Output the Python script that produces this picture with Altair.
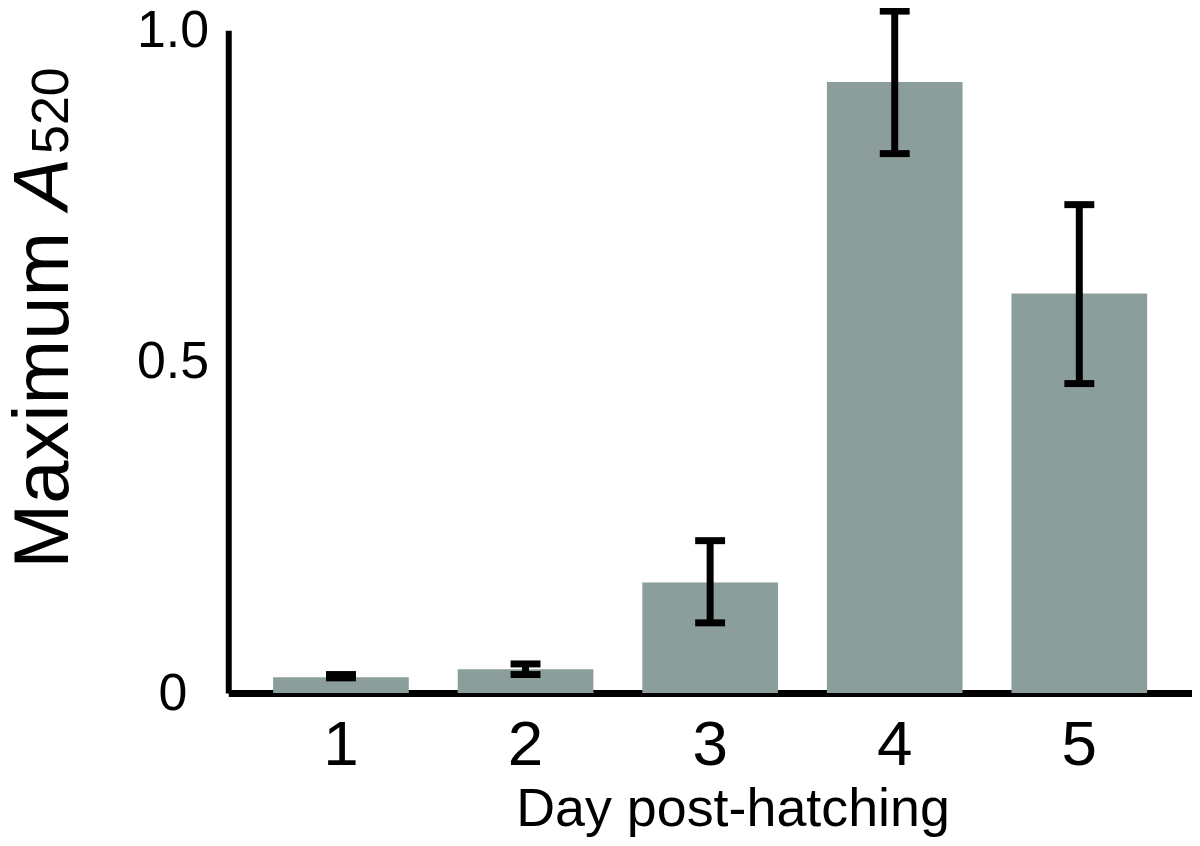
import altair as alt
import pandas as pd

days = ["1", "2", "3", "4", "5"]
means = [0.024, 0.036, 0.167, 0.922, 0.603]
err_low = [0.023, 0.028, 0.106, 0.814, 0.467]
err_high = [0.028, 0.044, 0.230, 1.029, 0.737]

df = pd.DataFrame({"day": days, "mean": means, "lo": err_low, "hi": err_high})

FONT = "Liberation Sans"

x_enc = alt.X(
    "day:N",
    sort=days,
    scale=alt.Scale(paddingInner=0.265, paddingOuter=0.243),
    axis=alt.Axis(
        title="Day post-hatching",
        labelAngle=0,
        ticks=False,
        labelPadding=21,
        labelFontSize=64,
        labelFont=FONT,
        labelColor="black",
        domainColor="black",
        domainWidth=7,
        grid=False,
        titleFont=FONT,
        titleFontSize=54,
        titleFontWeight="normal",
        titleColor="black",
        titleBaseline="top",
        titleAlign="center",
        titleX=506,
        titleY=90,
    ),
)

y_scale = alt.Scale(domain=[0, 1.0], nice=False, zero=True)

bars = alt.Chart(df).mark_bar(color="#8c9e9c").encode(
    x=x_enc,
    y=alt.Y(
        "mean:Q",
        scale=y_scale,
        axis=alt.Axis(
            title=None,
            values=[0, 0.5, 1.0],
            labelExpr="datum.value == 0 ? '0' : format(datum.value, '.1f')",
            ticks=False,
            tickSize=0,
            grid=False,
            labelAlign="center",
            labelBaseline="middle",
            labelPadding=56,
            labelFontSize=52,
            labelFont=FONT,
            labelColor="black",
            domainColor="black",
            domainWidth=6,
        ),
    ),
)

stems = alt.Chart(df).mark_rule(color="black", strokeWidth=7).encode(
    x=alt.X("day:N", sort=days),
    y=alt.Y("lo:Q", scale=y_scale),
    y2="hi:Q",
)

caps_hi = alt.Chart(df).mark_tick(color="black", size=30, thickness=7, opacity=1).encode(
    x=alt.X("day:N", sort=days),
    y=alt.Y("hi:Q", scale=y_scale),
)
caps_lo = alt.Chart(df).mark_tick(color="black", size=30, thickness=7, opacity=1).encode(
    x=alt.X("day:N", sort=days),
    y=alt.Y("lo:Q", scale=y_scale),
)

t1 = alt.Chart(pd.DataFrame({"t": ["Maximum"]})).mark_text(
    angle=270, align="left", baseline="alphabetic", font=FONT, fontSize=78, color="black"
).encode(text="t:N", x=alt.value(-161), y=alt.value(540))
t2 = alt.Chart(pd.DataFrame({"t": ["A"]})).mark_text(
    angle=270, align="left", baseline="alphabetic", font=FONT, fontSize=78,
    fontStyle="italic", color="black"
).encode(text="t:N", x=alt.value(-161), y=alt.value(180))
t3 = alt.Chart(pd.DataFrame({"t": ["520"]})).mark_text(
    angle=270, align="left", baseline="alphabetic", font=FONT, fontSize=52, color="black"
).encode(text="t:N", x=alt.value(-161), y=alt.value(124))

chart = alt.layer(bars, stems, caps_hi, caps_lo, t1, t2, t3).properties(
    width=967,
    height=665,
    background="white",
    autosize=alt.AutoSizeParams(type="none"),
    padding={"left": 221, "top": 21, "right": 0, "bottom": 150},
).configure_view(stroke=None).configure_axis(grid=False)

chart.save("out.html", embed_options={"renderer": "svg", "actions": False})
